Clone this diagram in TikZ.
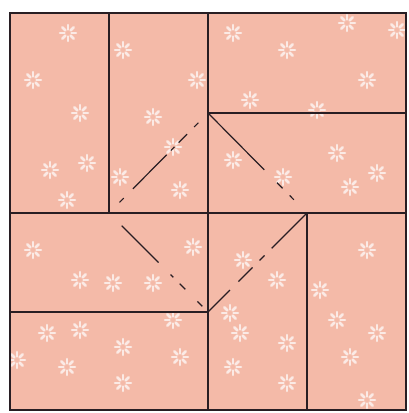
\documentclass[tikz,border=0pt]{standalone}
\usepackage{tikz}
\usetikzlibrary{calc}
\definecolor{paper}{RGB}{244,186,168}
\definecolor{crease}{RGB}{40,30,35}

\begin{document}
\begin{tikzpicture}[x=1pt, y=-1pt, edge/.style={draw=crease, line width=1.4pt}, fold/.style={draw=crease, line width=1.2pt}, petal/.style={draw=white, line width=2.6pt, line cap=round, opacity=0.7}]
      \useasboundingbox (0,0) rectangle (408,413);
      \coordinate (nw) at (10,13); \coordinate (ne) at (406,13); \coordinate
      (sw) at (10,410); \coordinate (se) at (406,410);
      \fill[paper] (nw) rectangle (se);

      % flowers of the paper
      \foreach \fx/\fy in {68/33, 33/80, 80/113, 50/170, 87/163, 67/200,
      123/50, 197/80, 153/117, 120/177, 180/190, 173/147, 233/33, 287/50,
      367/80, 347/23, 397/30, 250/100, 317/110, 337/153, 377/173, 233/160,
      283/177, 350/187, 33/250, 80/280, 113/283, 193/247, 153/283, 243/260,
      277/280, 230/313, 367/250, 320/290, 337/320, 377/333, 350/357, 47/333,
      80/330, 123/347, 173/320, 67/367, 123/383, 180/357, 17/360, 240/333,
      287/343, 233/367, 287/383, 367/400}
        \foreach \a in {0,45,...,315}
          \draw[petal] ($(\fx,\fy)+(\a:3.5)$) -- ($(\fx,\fy)+(\a:8)$);

      \coordinate (t1) at (109,13); \coordinate (t2) at (208,13);
      \coordinate (l2) at (10,213); \coordinate (l3) at (10,312);
      \coordinate (r1) at (406,113); \coordinate (r2) at (406,213);
      \coordinate (b2) at (208,410); \coordinate (b3) at (307,410);
      \coordinate (top) at (208,113); \coordinate (rgt) at (307,213);
      \coordinate (bot) at (208,312); \coordinate (lft) at (109,213);

      \draw[edge] (nw) rectangle (se);
      \draw[edge] (t1) -- (lft); \draw[edge] (t2) -- (b2);
      \draw[edge] (top) -- (r1); \draw[edge] (l2) -- (r2);
      \draw[edge] (rgt) -- (b3); \draw[edge] (l3) -- (bot);

      % the diamond, dashed
      \draw[fold, dash pattern=on 80pt off 18pt on 8pt off 10pt on 6pt off 18pt] (top) -- (rgt);
      \draw[fold, dash pattern=on 50pt off 10pt on 7pt off 10pt on 20pt off 12pt on 31pt off 1pt] (rgt) -- (bot);
      \draw[fold, dash pattern=on 52pt off 17pt on 4pt off 9pt on 8pt off 17pt on 7pt off 26pt, dash phase=122pt] (lft) -- (bot);
      \draw[fold, dash pattern=on 6pt off 13pt on 48pt off 6pt on 5pt off 6pt on 12pt off 10pt on 6pt off 28pt, dash phase=125pt] (lft) -- (top);
    \end{tikzpicture}
\end{document}
